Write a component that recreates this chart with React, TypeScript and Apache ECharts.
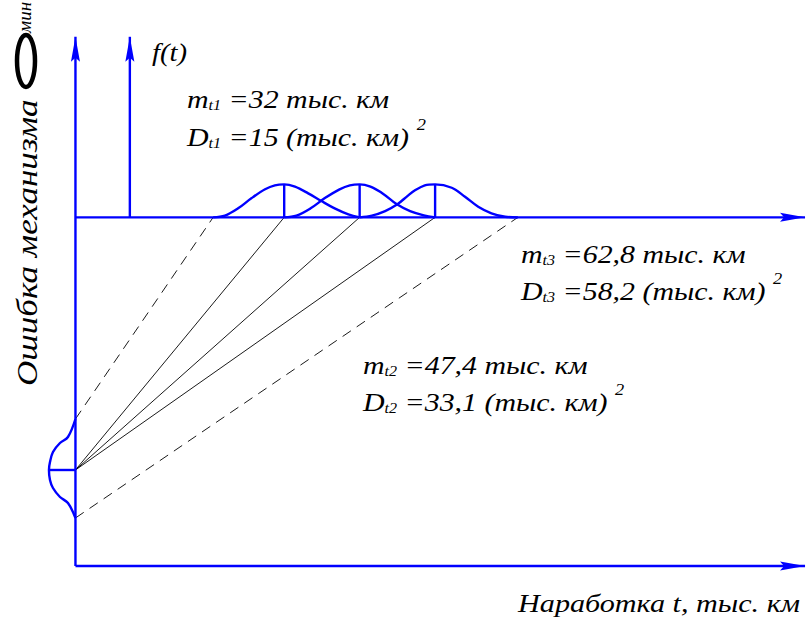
import { useEffect, useRef } from "react";
import * as echarts from "echarts";

// Stage parameters of running time, тыс. км
const stageKeys = ["t1", "t2", "t3"];
const stageMeans = [32, 47.4, 62.8];
const stageVariances = [15, 33.1, 58.2];

// Outlines of f(t) for each stage, [t, f] (f measured above the t axis)
const densityT1 = [
  [17.5, 0], [19.9, 0.3], [22.6, 1.59], [25.3, 3.36], [28.1, 4.95], [30.1, 5.65], [32, 5.83],
  [34.2, 5.41], [36.9, 4.24], [39.6, 2.88], [42.3, 1.59], [45.1, 0.53], [47.4, 0],
];
const densityT2 = [
  [32, 0], [34.5, 0.3], [37.4, 1.6], [40.3, 3.4], [43.3, 4.95], [45.4, 5.65], [47.4, 5.83],
  [49.6, 5.41], [52.3, 4.1], [55, 2.3], [57.7, 1.1], [60.5, 0.35], [62.8, 0],
];
const densityT3 = [
  [47.4, 0], [49.9, 0.3], [52.6, 1.1], [55.1, 2.3], [57.2, 3.8], [58.7, 4.77], [60.7, 5.65], [62.8, 5.83],
  [66.2, 5.23], [68.9, 3.64], [71.6, 1.87], [74.3, 0.71], [77.1, 0.1], [79.7, 0],
];
const stageDensities = [densityT1, densityT2, densityT3];

// Error distribution drawn leftwards from the error axis, [depth, error]
const errorDensity = [
  [0, 25.97], [1.53, 22.79], [3.16, 21.73], [4.59, 20.14], [5.2, 18.37], [5.41, 16.96],
  [5.2, 15.19], [4.59, 13.78], [3.16, 12.19], [1.53, 11.13], [0, 8.48],
];

const BLUE = "#0000ff";
const FONT = '"Liberation Serif", "Times New Roman", serif';

// Axis frame, in axis units
const X_MIN = -26;
const X_MAX = 138.7;
const Y_MIN = -10.25;
const Y_MAX = 100;
const ERR_AXIS_T = -10.6;
const F_AXIS_T = 0.5;
const T_LEVEL = 61.6;
const AXIS_END_T = 138.3;
const AXIS_TOP = 93.5;

const fmt = (v: number) => String(v).replace(".", ",");

function segment(points: number[][], color: string, width: number, z: number, type: any = "solid") {
  return {
    type: "line",
    data: points,
    symbol: "none",
    silent: true,
    z,
    lineStyle: { color, width, type },
  };
}

function buildOption() {
  const series: any[] = [];
  const LW = 2.4;

  // axes
  series.push(segment([[ERR_AXIS_T, 0], [ERR_AXIS_T, AXIS_TOP]], BLUE, LW, 5));
  series.push(segment([[ERR_AXIS_T, 0], [AXIS_END_T, 0]], BLUE, LW, 5));
  series.push(segment([[F_AXIS_T, T_LEVEL], [F_AXIS_T, AXIS_TOP]], BLUE, LW, 5));
  series.push(segment([[ERR_AXIS_T, T_LEVEL], [AXIS_END_T, T_LEVEL]], BLUE, LW, 5));

  // arrowheads: 0 = up, 1 = right
  series.push({
    type: "custom",
    silent: true,
    z: 6,
    data: [
      [ERR_AXIS_T, AXIS_TOP, 0],
      [F_AXIS_T, AXIS_TOP, 0],
      [AXIS_END_T, 0, 1],
      [AXIS_END_T, T_LEVEL, 1],
    ],
    renderItem: (_p: any, api: any) => {
      const [x, y] = api.coord([api.value(0), api.value(1)]);
      const L = 25, W = 4.5, N = 4;
      const pts =
        api.value(2) === 0
          ? [[x, y], [x + W, y + L], [x, y + L - N], [x - W, y + L]]
          : [[x, y], [x - L, y - W], [x - L + N, y], [x - L, y + W]];
      return { type: "polygon", shape: { points: pts }, style: { fill: BLUE } };
    },
  });

  // stage densities and their mean lines
  stageDensities.forEach((d, i) => {
    series.push({
      ...segment(d.map(([t, f]) => [t, T_LEVEL + f]), BLUE, LW, 5),
      smooth: 0.35,
    });
    const peak = Math.max(...d.map((p) => p[1]));
    series.push(segment([[stageMeans[i], T_LEVEL], [stageMeans[i], T_LEVEL + peak]], BLUE, LW, 5));
  });

  // error density on the error axis
  series.push({
    ...segment(errorDensity.map(([d, e]) => [ERR_AXIS_T - d, e]), BLUE, LW, 5),
    smooth: 0.35,
  });
  const peakIdx = errorDensity.reduce((b, p, i) => (p[0] > errorDensity[b][0] ? i : b), 0);
  const errCenter = errorDensity[peakIdx][1];
  const errTop = errorDensity[0][1];
  const errBottom = errorDensity[errorDensity.length - 1][1];
  series.push(segment([[ERR_AXIS_T - errorDensity[peakIdx][0], errCenter], [ERR_AXIS_T, errCenter]], BLUE, LW, 5));

  // rays from the error centre to each stage mean
  stageMeans.forEach((m) => {
    series.push(segment([[ERR_AXIS_T, errCenter], [m, T_LEVEL]], "#000", 0.9, 2));
  });
  // bounding rays
  series.push(segment([[ERR_AXIS_T, errTop], [densityT1[0][0], T_LEVEL]], "#000", 0.9, 2, [10, 7]));
  series.push(
    segment([[ERR_AXIS_T, errBottom], [densityT3[densityT3.length - 1][0], T_LEVEL]], "#000", 0.9, 2, [10, 7])
  );

  const big = { fontSize: 26, fontStyle: "italic", fontFamily: FONT, color: "#000", verticalAlign: "bottom" };
  const sub = { ...big, fontSize: 14 };
  const sup = { ...big, fontSize: 16, padding: [0, 0, 17, 0] };
  const rich = { a: big, s: sub, p: sup };
  const SX = 1.15;

  const paramPos = [
    [187, 112, 150],
    [363, 378, 415],
    [521, 267, 304],
  ];

  const graphics: any[] = [];
  stageKeys.forEach((k, i) => {
    const [x, y1, y2] = paramPos[i];
    graphics.push({
      type: "text",
      x,
      y: y1,
      scaleX: SX,
      style: {
        text: `{a|m}{s|${k}}{a| =${fmt(stageMeans[i])} тыс. км}`,
        rich,
        verticalAlign: "bottom",
        font: `italic 26px ${FONT}`,
      },
    });
    graphics.push({
      type: "text",
      x,
      y: y2,
      scaleX: SX,
      style: {
        text: `{a|D}{s|${k}}{a| =${fmt(stageVariances[i])} (тыс. км) }{p|2}`,
        rich,
        verticalAlign: "bottom",
        font: `italic 26px ${FONT}`,
      },
    });
  });

  graphics.push({
    type: "text",
    x: 152,
    y: 52,
    scaleX: 1.1,
    style: { text: "f(t)", font: `italic 26px ${FONT}`, fill: "#000", verticalAlign: "middle" },
  });
  graphics.push({
    type: "text",
    x: 800,
    y: 603,
    scaleX: 1.16,
    style: {
      text: "Наработка t, тыс. км",
      font: `italic 26px ${FONT}`,
      fill: "#000",
      align: "right",
      verticalAlign: "middle",
    },
  });
  graphics.push({
    type: "text",
    x: 27,
    y: 386,
    rotation: Math.PI / 2,
    scaleX: 1.17,
    style: { text: "Ошибка механизма", font: `italic 30px ${FONT}`, fill: "#000", verticalAlign: "middle" },
  });
  graphics.push({
    type: "ellipse",
    shape: { cx: 26, cy: 61, rx: 9, ry: 26 },
    style: { fill: "none", stroke: "#000", lineWidth: 4.5 },
  });
  graphics.push({
    type: "text",
    x: 24,
    y: 33,
    rotation: Math.PI / 2,
    style: { text: "мин", font: `italic 19px ${FONT}`, fill: "#000", verticalAlign: "middle" },
  });

  return {
    animation: false,
    backgroundColor: "#fff",
    grid: { left: 0, right: 0, top: 0, bottom: 0 },
    xAxis: { type: "value", min: X_MIN, max: X_MAX, show: false },
    yAxis: { type: "value", min: Y_MIN, max: Y_MAX, show: false },
    series,
    graphic: graphics,
  };
}

export default function App() {
  const ref = useRef<HTMLDivElement>(null);
  useEffect(() => {
    if (!ref.current) return;
    const chart = echarts.init(ref.current, undefined, { renderer: "svg" });
    chart.setOption(buildOption() as any);
    return () => chart.dispose();
  }, []);
  return (
    <div
      ref={ref}
      style={{ position: "fixed", left: 0, top: 0, width: 807, height: 624, background: "#fff" }}
    />
  );
}
